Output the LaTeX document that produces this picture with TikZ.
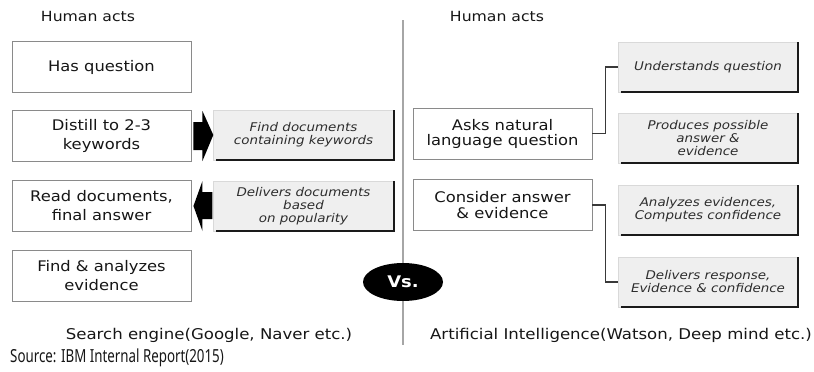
\documentclass[tikz,border=0pt]{standalone}
\usepackage{fontspec}
\newfontfamily\mainf[FakeStretch=1.12]{DejaVu Sans}
\newfontfamily\srcf[FakeStretch=0.74]{Noto Sans}
\usetikzlibrary{shapes.geometric}
\definecolor{txt}{HTML}{161616}
\definecolor{boxline}{HTML}{8A8A8A}
\definecolor{grayfill}{HTML}{EFEFEF}
\definecolor{shad}{HTML}{1A1A1A}
\tikzset{
  whitebox/.style={draw=boxline, line width=0.9pt, fill=white, minimum width=179pt,
    minimum height=51pt, align=center, inner sep=2pt, text=txt,
    font=\mainf\fontsize{14.6}{19}\selectfont},
  graybox/.style={draw=grayfill!80!gray, line width=0.4pt, fill=grayfill, minimum width=180pt,
    minimum height=50pt, align=center, inner sep=2pt, text=txt!90!white,
    font=\mainf\itshape\fontsize{12}{13}\selectfont},
  shadowline/.style={draw=shad, line width=2pt},
  conn/.style={draw=txt!85!white, line width=1.2pt},
  blockarrow/.style={fill=black},
  lbl/.style={text=txt, font=\mainf\fontsize{14}{17}\selectfont, inner sep=0pt},
}
\begin{document}
\begin{tikzpicture}[x=1pt,y=-1pt]
\useasboundingbox (0,0) rectangle (814,372);

% headers
\node[lbl] (h1) at (88,16) {Human acts};
\node[lbl] (h2) at (497,16) {Human acts};

% divider
\coordinate (dtop) at (403,20);
\coordinate (dbot) at (403,345);
\draw[draw=gray!70, line width=1.2pt] (dtop) -- (dbot);

% left column
\node[whitebox] (hq) at (101.5,67) {Has question};
\node[whitebox] (di) at (101.5,136) {Distill to 2-3\\keywords};
\node[whitebox] (rd) at (101.5,206) {Read documents,\\final answer};
\node[whitebox] (fa) at (101.5,276) {Find \& analyzes\\evidence};

\node[graybox] (fd) at (303.5,135) {Find documents\\containing keywords};
\node[graybox] (dd) at (303.5,206) {Delivers documents\\based\\on popularity};

% right column
\node[whitebox, font=\mainf\fontsize{14.6}{15}\selectfont] (an) at (502.5,133.5) {Asks natural\\language question};
\node[whitebox, font=\mainf\fontsize{14.6}{16}\selectfont] (ca) at (502.5,205) {Consider answer\\\& evidence};

\node[graybox] (uq) at (708,67) {Understands question};
\node[graybox] (pa) at (708,138) {Produces possible\\answer \&\\evidence};
\node[graybox] (ae) at (708,210) {Analyzes evidences,\\Computes confidence};
\node[graybox] (dr) at (708,282) {Delivers response,\\Evidence \& confidence};

% shadows of gray boxes
\foreach \n in {fd,dd,uq,pa,ae,dr}{
  \draw[shadowline] ([xshift=3pt]\n.south west) -- (\n.south east) -- (\n.north east);
}

% block arrows
\fill[blockarrow] ([xshift=2pt,yshift=-14pt]di.east) -- ([xshift=11pt,yshift=-14pt]di.east)
  -- ([xshift=11pt,yshift=-25pt]di.east) -- (fd.west) -- ([xshift=11pt,yshift=25pt]di.east)
  -- ([xshift=11pt,yshift=14pt]di.east) -- ([xshift=2pt,yshift=14pt]di.east) -- cycle;
\fill[blockarrow] ([xshift=2pt]rd.east) -- ([xshift=11pt,yshift=-25pt]rd.east)
  -- ([xshift=11pt,yshift=-13pt]rd.east) -- ([xshift=-1pt,yshift=-13pt]dd.west)
  -- ([xshift=-1pt,yshift=14pt]dd.west) -- ([xshift=11pt,yshift=14pt]rd.east)
  -- ([xshift=11pt,yshift=25pt]rd.east) -- cycle;

% connectors
\draw[conn] (an.east) -- ++(13,0) |- (uq.west);
\draw[conn] (ca.east) -- ++(13,0) |- (dr.west);

% Vs
\node[ellipse, fill=black, minimum width=80pt, minimum height=38pt, inner sep=0pt,
  text=white, font=\mainf\bfseries\fontsize{16}{16}\selectfont] (vs) at (403,282) {Vs.};

% bottom labels
\node[lbl, font=\mainf\fontsize{14.8}{17}\selectfont] (se) at (209,335) {Search engine(Google, Naver etc.)};
\node[lbl, font=\mainf\fontsize{14.8}{17}\selectfont] (ai) at (621,335) {Artificial Intelligence(Watson, Deep mind etc.)};
\node[lbl, anchor=west, font=\srcf\fontsize{18}{20}\selectfont] (src) at (10,358) {Source: IBM Internal Report(2015)};
\end{tikzpicture}
\end{document}
